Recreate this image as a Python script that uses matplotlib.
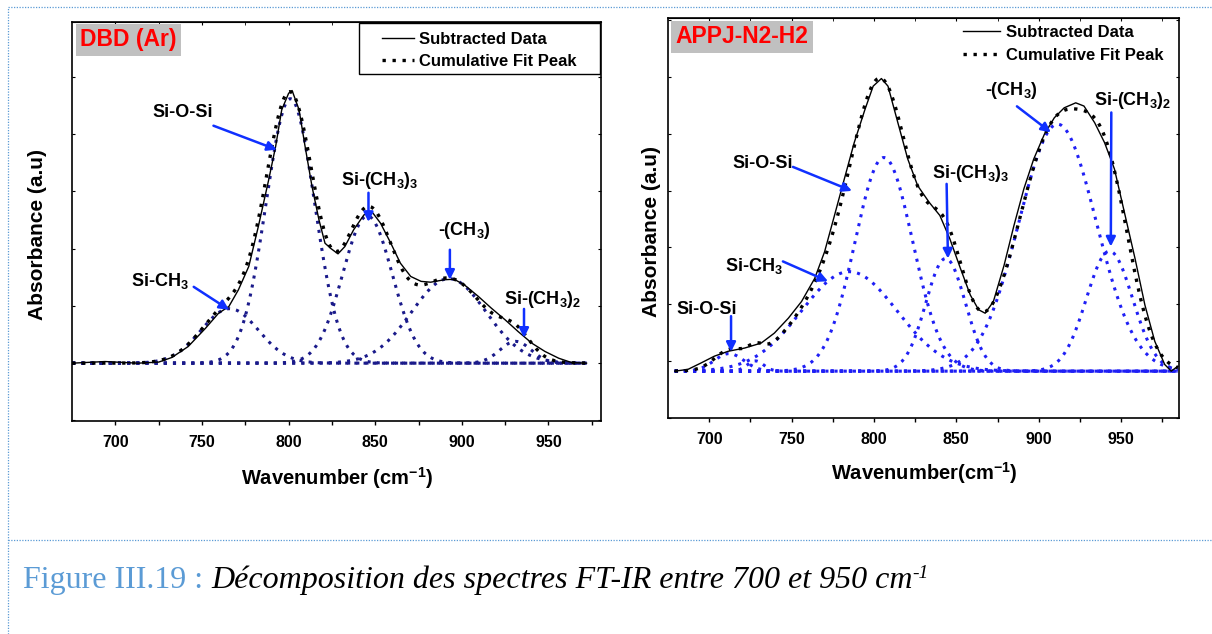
import numpy as np
import matplotlib.pyplot as plt
from matplotlib.lines import Line2D
from matplotlib.patches import Rectangle
from matplotlib.ticker import MultipleLocator

plt.rcParams['font.family'] = ['Liberation Sans', 'DejaVu Sans']
plt.rcParams['font.weight'] = 'bold'
plt.rcParams['mathtext.fontset'] = 'custom'
plt.rcParams['mathtext.bf'] = 'Liberation Sans:bold'
plt.rcParams['mathtext.rm'] = 'Liberation Sans:bold'

# ---------------- DBD (Ar) ----------------
# subtracted spectrum
dbd_wn = [675, 694, 713, 725, 732.6, 742, 752, 759.5, 765.5, 771, 777, 782.5, 788.5,
          792.5, 796, 800, 802, 806, 809.5, 813.5, 817.5, 821, 824.5, 828.5, 832.5,
          837.5, 843.5, 848, 853, 859, 864.5, 870.5, 876.5, 882, 890, 895.5, 901.5,
          909.5, 917, 925, 932.5, 940.5, 948, 956, 963.5, 972]
dbd_abs = [0.0, 0.006, 0.0, 0.004, 0.021, 0.061, 0.128, 0.183, 0.208, 0.269, 0.355,
           0.501, 0.673, 0.795, 0.929, 0.99, 1.0, 0.93, 0.795, 0.648, 0.526, 0.44,
           0.42, 0.401, 0.428, 0.489, 0.544, 0.556, 0.514, 0.44, 0.367, 0.318, 0.30,
           0.297, 0.306, 0.308, 0.287, 0.245, 0.202, 0.159, 0.116, 0.073, 0.043,
           0.018, 0.002, 0.0]
# fitted gaussian peaks: Si-CH3, Si-O-Si, Si-(CH3)3, -(CH3), Si-(CH3)2
dbd_centres = [766, 801, 845.5, 892.5, 931]
dbd_heights = [0.20, 0.97, 0.54, 0.31, 0.08]
dbd_sigmas = [16.5, 14, 14.3, 21.5, 9]

# ---------------- APPJ-N2-H2 ----------------
appj_wn = [679, 687, 695, 703, 711.5, 721.5, 731.5, 739.5, 748, 756, 764, 770, 776,
           782, 788, 794.5, 799.5, 804.5, 808.5, 814.5, 820.5, 826.5, 833.5, 840,
           846, 852.5, 858.5, 863.5, 867.5, 872.5, 879, 885, 891, 897, 903.5, 909.5,
           915.5, 922.5, 927.5, 934, 940, 946, 952, 958.5, 964.5, 970.5, 976.5,
           980.5, 984.5]
appj_abs = [0.0, 0.006, 0.028, 0.051, 0.068, 0.079, 0.096, 0.13, 0.181, 0.238, 0.317,
            0.408, 0.532, 0.657, 0.781, 0.894, 0.974, 1.0, 0.974, 0.849, 0.725, 0.634,
            0.577, 0.532, 0.453, 0.351, 0.26, 0.21, 0.198, 0.238, 0.362, 0.498, 0.623,
            0.725, 0.81, 0.866, 0.9, 0.917, 0.906, 0.849, 0.781, 0.691, 0.544, 0.385,
            0.226, 0.102, 0.023, 0.0, 0.017]
# Si-O-Si (small), shoulder, Si-CH3, Si-O-Si, Si-(CH3)3, -(CH3), Si-(CH3)2
appj_centres = [712, 728, 785, 806, 843.5, 911.5, 943]
appj_heights = [0.06, 0.035, 0.34, 0.73, 0.385, 0.844, 0.41]
appj_sigmas = [9, 5, 29, 17.5, 12, 23.4, 14]

# annotations: label, text pos, arrow tail, arrow head (data units)
dbd_labels = ['Si-O-Si', r'Si-CH$_\mathbf{3}$', r'Si-(CH$_\mathbf{3}$)$_\mathbf{3}$',
              r'-(CH$_\mathbf{3}$)', r'Si-(CH$_\mathbf{3}$)$_\mathbf{2}$']
dbd_text_xy = [(738.7, 0.92), (725.7, 0.30), (852.5, 0.67), (901.5, 0.485), (946.9, 0.235)]
dbd_tail = [(756.6, 0.871), (745.2, 0.280), (846.1, 0.625), (893.1, 0.416), (935.9, 0.199)]
dbd_head = [(793.2, 0.783), (765.6, 0.196), (846.1, 0.518), (893.1, 0.306), (935.9, 0.093)]

appj_labels = ['Si-O-Si', r'Si-CH$_\mathbf{3}$', 'Si-O-Si', r'Si-(CH$_\mathbf{3}$)$_\mathbf{3}$',
               r'-(CH$_\mathbf{3}$)', r'Si-(CH$_\mathbf{3}$)$_\mathbf{2}$']
appj_text_xy = [(698.3, 0.212), (726.8, 0.36), (732.6, 0.711), (858.6, 0.675),
                (883.5, 0.96), (957.3, 0.925)]
appj_tail = [(713.2, 0.188), (744.7, 0.375), (750.8, 0.698), (844.1, 0.64),
             (886.8, 0.905), (944.1, 0.884)]
appj_head = [(713.2, 0.066), (772.1, 0.307), (786.6, 0.616), (844.9, 0.385),
             (907.4, 0.816), (943.8, 0.426)]

ARROW = '#1030FF'
DOT = (0, (1, 2))


def gauss(x, c, h, s):
    return h * np.exp(-(x - c) ** 2 / (2 * s ** 2))


def panel(ax, wn, ab, centres, heights, sigmas, comp_color, xlim, ylim, yticks):
    x = np.linspace(wn[0], wn[-1], 500)
    total = np.zeros_like(x)
    for c, h, s in zip(centres, heights, sigmas):
        y = gauss(x, c, h, s)
        total += y
        ax.plot(x, y, color=comp_color, lw=2.2, ls=DOT)
    fit, = ax.plot(x, total, color='black', lw=2.4, ls=DOT)
    data, = ax.plot(wn, ab, color='black', lw=1.0)
    ax.set_xlim(*xlim)
    ax.set_ylim(*ylim)
    ax.set_xticks(np.arange(700, 951, 50))
    ax.xaxis.set_minor_locator(MultipleLocator(25))
    ax.tick_params(axis='x', which='both', direction='out', length=3.2, width=1,
                   labelsize=11.5, pad=7)
    ax.set_yticks(yticks)
    ax.tick_params(axis='y', direction='in', length=2.5, left=True, right=True,
                   labelleft=False)
    top = ax.secondary_xaxis('top')
    top.set_xticks(np.arange(700, 951, 50))
    top.xaxis.set_minor_locator(MultipleLocator(25))
    top.tick_params(which='both', direction='in', length=2.5, labeltop=False)
    for sp in ax.spines.values():
        sp.set_linewidth(1.2)
    return data, fit


def annotate(ax, labels, text_xy, tails, heads):
    for lab, t, a, b in zip(labels, text_xy, tails, heads):
        ax.text(t[0], t[1], lab, fontsize=13, fontweight='bold', ha='center', va='center')
        ax.annotate('', xy=b, xytext=a,
                    arrowprops=dict(arrowstyle='-|>', color=ARROW, lw=1.8,
                                    mutation_scale=14, shrinkA=0, shrinkB=0))


fig = plt.figure(figsize=(12.12, 6.34), dpi=100)

ax1 = fig.add_axes([0.0598, 0.336, 0.436, 0.630])
d1, f1 = panel(ax1, dbd_wn, dbd_abs, dbd_centres, dbd_heights, dbd_sigmas, '#1a1a8a',
               (675.2, 980.3), (-0.212, 1.253), np.arange(-0.21, 1.26, 0.21))
annotate(ax1, dbd_labels, dbd_text_xy, dbd_tail, dbd_head)
ax1.set_xlabel(r'Wavenumber (cm$^{\mathbf{-1}}$)', fontsize=14.5, fontweight='bold')
ax1.xaxis.set_label_coords(0.5, -0.11)
ax1.set_ylabel('Absorbance (a.u)', fontsize=15, fontweight='bold')
ax1.yaxis.set_label_coords(-0.0475, 0.466)
ax1.text(0.106, 0.954, 'DBD (Ar)', transform=ax1.transAxes, color='#FF0000',
         fontsize=16.5, fontweight='bold', ha='center', va='center',
         bbox=dict(boxstyle='square,pad=0.2', facecolor='#C0C0C0', edgecolor='none'))
ax1.add_patch(Rectangle((0.5421, 0.869), 0.998 - 0.5421, 0.9967 - 0.869,
                        transform=ax1.transAxes, facecolor='white', edgecolor='black',
                        lw=1.0, zorder=4))
leg1 = ax1.legend([d1, f1], ['Subtracted Data', 'Cumulative Fit Peak'], loc='upper left',
                  bbox_to_anchor=(0.576, 0.987), frameon=False, borderpad=0.3,
                  borderaxespad=0, handlelength=1.9, handletextpad=0.3,
                  labelspacing=0.44, prop={'size': 12, 'weight': 'bold'})
leg1.set_zorder(5)

ax2 = fig.add_axes([0.5514, 0.3412, 0.4215, 0.630])
d2, f2 = panel(ax2, appj_wn, appj_abs, appj_centres, appj_heights, appj_sigmas, '#1f1ff5',
               (675.1, 985.3), (-0.151, 1.206), np.arange(0.035 - 0.194, 1.21, 0.194))
annotate(ax2, appj_labels, appj_text_xy, appj_tail, appj_head)
ax2.set_xlabel(r'Wavenumber(cm$^{\mathbf{-1}}$)', fontsize=14.5, fontweight='bold')
ax2.xaxis.set_label_coords(0.502, -0.106)
ax2.set_ylabel('Absorbance (a.u)', fontsize=15, fontweight='bold')
ax2.yaxis.set_label_coords(-0.015, 0.465)
ax2.text(0.144, 0.954, 'APPJ-N2-H2', transform=ax2.transAxes, color='#FF0000',
         fontsize=16.5, fontweight='bold', ha='center', va='center',
         bbox=dict(boxstyle='square,pad=0.2', facecolor='#C0C0C0', edgecolor='none'))
ax2.legend([d2, f2], ['Subtracted Data', 'Cumulative Fit Peak'], loc='upper left',
           bbox_to_anchor=(0.567, 0.995), frameon=False, borderpad=0.3,
           borderaxespad=0, handlelength=2.2, handletextpad=0.36,
           labelspacing=0.44, prop={'size': 12, 'weight': 'bold'})

# dotted page frame
frame_kw = dict(color='#5B9BD5', lw=0.9, ls=(0, (1, 1.2)), transform=fig.transFigure)
fig.add_artist(Line2D([8 / 1212, 1], [1 - 7 / 634, 1 - 7 / 634], **frame_kw))
fig.add_artist(Line2D([8 / 1212, 8 / 1212], [0, 1 - 7 / 634], **frame_kw))
fig.add_artist(Line2D([8 / 1212, 1], [1 - 540 / 634, 1 - 540 / 634], **frame_kw))

# caption
t1 = fig.text(23 / 1212, 1 - 588 / 634, 'Figure III.19 : ', color='#5B9BD5',
              family='Liberation Serif', fontweight='normal', fontsize=23, va='baseline')
t2 = plt.annotate('Décomposition des spectres FT-IR entre 700 et 950 cm', xy=(1, 0),
                  xycoords=t1, va='bottom', ha='left', family='Liberation Serif',
                  style='italic', fontweight='normal', fontsize=23,
                  annotation_clip=False)
plt.annotate('-1', xy=(1, 1), xycoords=t2, va='top', ha='left',
             family='Liberation Serif', style='italic', fontweight='normal',
             fontsize=14, annotation_clip=False)

fig.savefig('out.png', dpi=100)
